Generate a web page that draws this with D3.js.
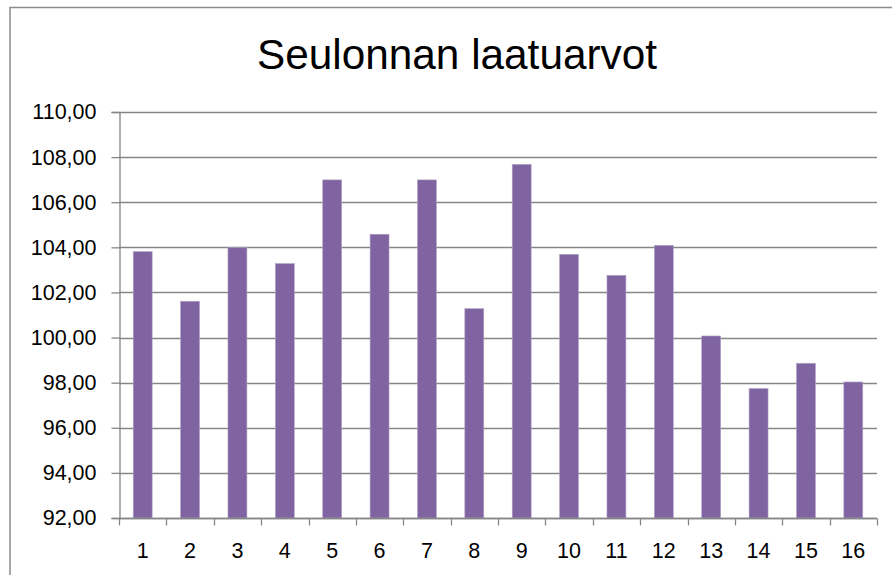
<!DOCTYPE html>
<html>
<head>
<meta charset="utf-8">
<script src="https://cdn.jsdelivr.net/npm/d3@7"></script>
<style>
  body { margin: 0; background: #fff; }
  svg { display: block; }
</style>
</head>
<body>
<svg id="chart" width="892" height="575"></svg>
<script>
// data
var chartTitle = "Seulonnan laatuarvot";
var categories = ["1","2","3","4","5","6","7","8","9","10","11","12","13","14","15","16"];
var values = [103.81, 101.61, 103.99, 103.28, 106.99, 104.58, 106.99, 101.28, 107.68, 103.69, 102.76, 104.09, 100.07, 97.74, 98.86, 98.03];
var yTicks = [92, 94, 96, 98, 100, 102, 104, 106, 108, 110];

var svg = d3.select("#chart");
var margin = {left: 119, right: 15, top: 112, bottom: 57};
var W = 892, H = 575;

// outer frame (runs off the right and bottom edge)
svg.append("rect")
    .attr("x", 10).attr("y", 7.5)
    .attr("width", 900).attr("height", 600)
    .attr("fill", "none")
    .attr("stroke", "#8c8c8c")
    .attr("stroke-width", 1.5);

svg.append("text")
    .attr("x", 457).attr("y", 69)
    .attr("text-anchor", "middle")
    .attr("font-family", "Liberation Sans, Arial, sans-serif")
    .attr("font-size", 43)
    .attr("textLength", 400)
    .attr("lengthAdjust", "spacingAndGlyphs")
    .attr("fill", "#000")
    .text(chartTitle);

var bandScale = d3.scaleBand()
    .domain(categories)
    .range([margin.left, W - margin.right]);

var yScale = d3.scaleLinear()
    .domain([92, 110])
    .range([H - margin.bottom, margin.top]);

// gridlines
svg.append("g")
    .selectAll("line")
    .data(yTicks)
    .enter()
    .append("line")
    .attr("x1", margin.left)
    .attr("x2", W - margin.right)
    .attr("y1", function(d) { return Math.round(yScale(d)) + 0.5; })
    .attr("y2", function(d) { return Math.round(yScale(d)) + 0.5; })
    .attr("stroke", "#868686")
    .attr("stroke-width", 1.3);

// bars, gap width 150%
svg.append("g")
    .selectAll("rect")
    .data(values)
    .enter()
    .append("rect")
    .attr("x", function(d, i) { return bandScale(categories[i]) + bandScale.bandwidth() * 0.3; })
    .attr("width", bandScale.bandwidth() * 0.4)
    .attr("y", function(d) { return yScale(d); })
    .attr("height", function(d) { return yScale(92) - yScale(d); })
    .attr("fill", "#8064a2")
    .attr("stroke", "#b3a2c7")
    .attr("stroke-width", 0.6);

// y axis
var yAxis = d3.axisLeft(yScale)
    .tickValues(yTicks)
    .tickSize(8)
    .tickPadding(15)
    .tickFormat(function(d) { return d3.format(".2f")(d).replace(".", ","); });

var gy = svg.append("g")
    .attr("transform", "translate(" + (margin.left + 0.5) + ",0)")
    .call(yAxis);

// x axis: ticks at band boundaries
var xAxis = d3.axisBottom(bandScale)
    .tickSize(0)
    .tickPadding(24);

var gx = svg.append("g")
    .attr("transform", "translate(0," + (Math.round(yScale(92)) + 0.5) + ")")
    .call(xAxis);

var boundaries = categories.map(function(c) { return bandScale(c); }).concat([W - margin.right]);
gx.selectAll(".bound")
    .data(boundaries)
    .enter()
    .append("line")
    .attr("class", "bound")
    .attr("x1", function(d) { return Math.round(d) + 0.5; })
    .attr("x2", function(d) { return Math.round(d) + 0.5; })
    .attr("y1", 0).attr("y2", 7)
    .attr("stroke", "#868686")
    .attr("stroke-width", 1.3);

[gx, gy].forEach(function(g) {
    g.select(".domain").attr("stroke", "#868686").attr("stroke-width", 1.3);
    g.selectAll(".tick line").attr("stroke", "#868686").attr("stroke-width", 1.3);
    g.selectAll("text")
        .attr("font-family", "Liberation Sans, Arial, sans-serif")
        .attr("font-size", 21.5)
        .attr("fill", "#000");
});
gx.select(".domain").attr("d", "M" + margin.left + ",0H" + (W - margin.right));
</script>
</body>
</html>
